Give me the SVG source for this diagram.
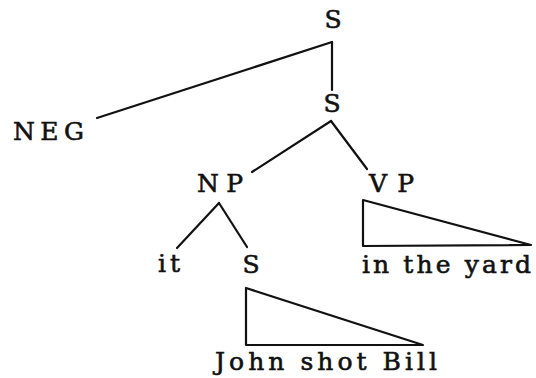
<svg xmlns="http://www.w3.org/2000/svg" width="536" height="378" viewBox="0 0 536 378">
<style>
text{font-family:"DejaVu Serif","Liberation Serif",serif;font-size:25px;fill:#111;stroke:#111;stroke-width:0.6;}
.c{text-anchor:middle;}
.l{fill:none;stroke:#111;stroke-width:2.2;stroke-linecap:round;stroke-linejoin:round;}
</style>
<rect width="536" height="378" fill="#fff"/>
<g id="connectors">
<line class="l" x1="332" y1="42" x2="97" y2="118"/>
<line class="l" x1="332" y1="42" x2="332" y2="90"/>
<line class="l" x1="331" y1="121" x2="252" y2="172"/>
<line class="l" x1="331" y1="121" x2="367" y2="169"/>
<line class="l" x1="219" y1="203" x2="177" y2="248"/>
<line class="l" x1="219" y1="203" x2="247" y2="247"/>
<polygon class="l" points="363,200 363,246 531,245"/>
<polygon class="l" points="246,288 246,345 423,345"/>
</g>
<g id="n-s1"><text class="c" x="333" y="28">S</text></g>
<g id="n-neg"><text x="13" y="140" textLength="71" lengthAdjust="spacing">NEG</text></g>
<g id="n-s2"><text class="c" x="332" y="112">S</text></g>
<g id="n-np"><text x="197" y="192" textLength="46" lengthAdjust="spacing">NP</text></g>
<g id="n-vp"><text x="369" y="192" textLength="45" lengthAdjust="spacing">VP</text></g>
<g id="n-it"><text x="158" y="272" textLength="22" lengthAdjust="spacing">it</text></g>
<g id="n-s3"><text class="c" x="251" y="273">S</text></g>
<g id="n-yard"><text x="362" y="273" textLength="169" lengthAdjust="spacing">in the yard</text></g>
<g id="n-john"><text x="215" y="370" textLength="222" lengthAdjust="spacing">John shot Bill</text></g>
</svg>
